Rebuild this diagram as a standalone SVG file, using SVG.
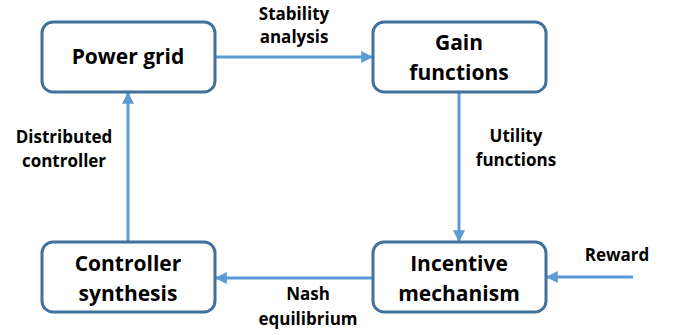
<svg xmlns="http://www.w3.org/2000/svg" width="677" height="335" viewBox="0 0 677 335">
<style>
.box{fill:#fff;stroke:#41719C;stroke-width:3}
.bt{font-family:"Open Sans","Liberation Sans",sans-serif;font-weight:bold;font-size:21px;fill:#000;text-anchor:middle}
.lt{font-family:"Open Sans","Liberation Sans",sans-serif;font-weight:bold;font-size:17px;fill:#000;text-anchor:middle}
.ar{stroke:#5B9BD5;stroke-width:3;fill:none;marker-end:url(#ah)}
</style>
<defs>
<marker id="ah" viewBox="0 0 10 10" refX="9" refY="5" markerWidth="4" markerHeight="4" orient="auto" markerUnits="strokeWidth">
<path d="M0,0 L10,5 L0,10 z" fill="#5B9BD5"/>
</marker>
</defs>
<g id="connectors">
<path class="ar" d="M215,57 H372"/>
<path class="ar" d="M459,92 V241"/>
<path class="ar" d="M373,278 H216"/>
<path class="ar" d="M128,242 V93"/>
<path class="ar" d="M633,277 H547"/>
<text class="lt" x="294" y="20">Stability</text>
<text class="lt" x="294" y="43">analysis</text>
<text class="lt" x="516" y="142">Utility</text>
<text class="lt" x="516" y="166">functions</text>
<text class="lt" x="64" y="143">Distributed</text>
<text class="lt" x="64" y="167">controller</text>
<text class="lt" x="308" y="300">Nash</text>
<text class="lt" x="308" y="325">equilibrium</text>
<text class="lt" x="617" y="261">Reward</text>
</g>
<g id="power-grid">
<rect class="box" x="42" y="22" width="173" height="70" rx="11"/>
<text class="bt" x="128" y="64">Power grid</text>
</g>
<g id="gain-functions">
<rect class="box" x="373" y="22" width="173" height="70" rx="11"/>
<text class="bt" x="459" y="50">Gain</text>
<text class="bt" x="459" y="80">functions</text>
</g>
<g id="controller-synthesis">
<rect class="box" x="42" y="242" width="173" height="70" rx="11"/>
<text class="bt" x="128" y="271">Controller</text>
<text class="bt" x="128" y="301">synthesis</text>
</g>
<g id="incentive-mechanism">
<rect class="box" x="373" y="242" width="173" height="70" rx="11"/>
<text class="bt" x="459" y="271">Incentive</text>
<text class="bt" x="459" y="301">mechanism</text>
</g>
</svg>
